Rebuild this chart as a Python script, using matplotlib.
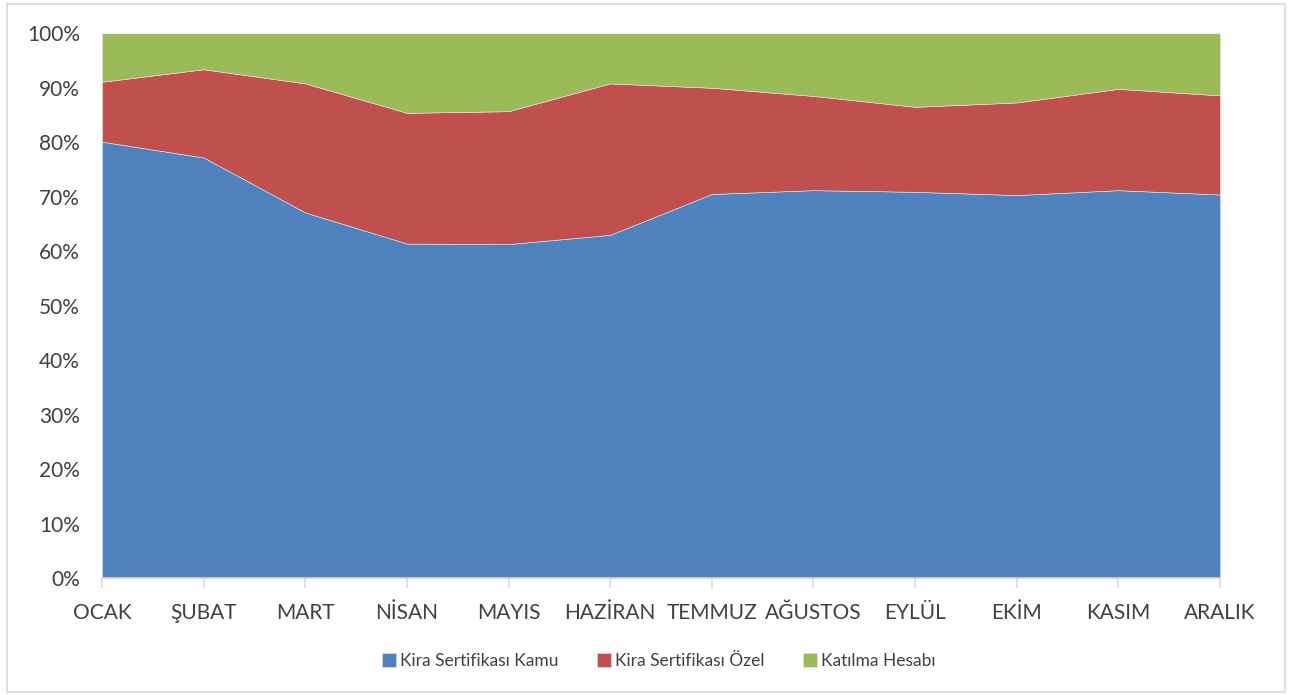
import numpy as np
import matplotlib.pyplot as plt
from matplotlib.patches import Rectangle
from matplotlib.ticker import FuncFormatter

# Aylar ve seri payları (%)
aylar = ['OCAK', 'ŞUBAT', 'MART', 'NİSAN', 'MAYIS', 'HAZİRAN',
         'TEMMUZ', 'AĞUSTOS', 'EYLÜL', 'EKİM', 'KASIM', 'ARALIK']
kamu = [80.1, 77.2, 67.1, 61.4, 61.3, 63.0, 70.5, 71.2, 70.9, 70.3, 71.2, 70.4]
ozel = [11.0, 16.2, 23.7, 24.0, 24.4, 27.8, 19.5, 17.3, 15.6, 17.0, 18.6, 18.2]
katilma = [8.9, 6.6, 9.2, 14.6, 14.3, 9.2, 10.0, 11.5, 13.5, 12.7, 10.2, 11.4]
seriler = ['Kira Sertifikası Kamu', 'Kira Sertifikası Özel', 'Katılma Hesabı']
renkler = ['#4F81BD', '#C0504D', '#9BBB59']

plt.rcParams['font.family'] = ['Lato', 'DejaVu Sans']

W, H = 1302, 695
fig = plt.figure(figsize=(W / 100, H / 100), dpi=100)

# dış çerçeve
fig.patches.append(Rectangle((7 / W, 3 / H), 1278 / W, 688 / H, transform=fig.transFigure,
                             fill=False, edgecolor='#D9D9D9', linewidth=1.2))

ax = fig.add_axes([102 / W, 1 - 578 / H, (1220 - 102) / W, (578 - 33.3) / H])

x = np.arange(len(aylar))
ax.stackplot(x, kamu, ozel, katilma, colors=renkler, labels=seriler,
             edgecolor='#E8E8E8', linewidth=0.4)

ax.set_xlim(0, len(aylar) - 1)
ax.set_ylim(0, 100)
ax.set_yticks(np.arange(0, 101, 10))
ax.yaxis.set_major_formatter(FuncFormatter(lambda v, p: f'{int(v)}%'))
ax.set_xticks(x)
ax.set_xticklabels(aylar)

for s in ['top', 'right', 'left']:
    ax.spines[s].set_visible(False)
ax.spines['bottom'].set_color('#D9D9D9')
ax.spines['bottom'].set_linewidth(1.2)

ax.tick_params(axis='y', length=0, pad=16, labelsize=15, labelcolor='#404040')
ax.tick_params(axis='x', length=7, width=1.2, color='#D9D9D9', pad=11,
               labelsize=15, labelcolor='#404040')

leg = fig.legend(loc='center', bbox_to_anchor=(659 / W, 1 - 661 / H), ncol=3,
                 frameon=False, fontsize=12.5, handlelength=0.8, handleheight=0.8,
                 handletextpad=0.25, columnspacing=2.2)
for t in leg.get_texts():
    t.set_color('#404040')

fig.savefig('out.png', dpi=100)
